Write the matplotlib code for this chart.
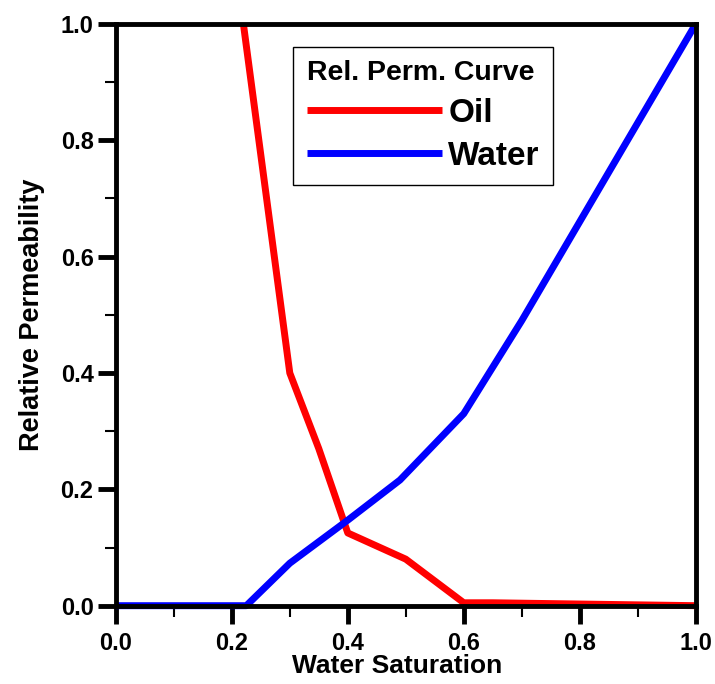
import matplotlib
matplotlib.use('Agg')
import matplotlib.pyplot as plt
from matplotlib.ticker import MultipleLocator

plt.rcParams['font.family'] = ['Liberation Sans', 'DejaVu Sans']
plt.rcParams['font.weight'] = 'bold'

# Relative permeability curves
sw_oil = [0.22, 0.30, 0.35, 0.40, 0.50, 0.60, 0.65, 1.0]
kr_oil = [1.00, 0.40, 0.27, 0.125, 0.08, 0.005, 0.005, 0.0]

sw_water = [0.0, 0.225, 0.30, 0.40, 0.49, 0.60, 0.70, 0.80, 0.90, 1.0]
kr_water = [0.0, 0.0, 0.073, 0.147, 0.216, 0.33, 0.49, 0.66, 0.83, 1.0]

fig = plt.figure(figsize=(7.15, 6.84), dpi=100)
ax = fig.add_axes([0.162, 0.1145, 0.811, 0.8505])

ax.plot(sw_oil, kr_oil, color='#ff0000', linewidth=5, label='Oil',
        clip_on=False, solid_capstyle='butt')
ax.plot(sw_water, kr_water, color='#0000ff', linewidth=5, label='Water',
        clip_on=False, solid_capstyle='butt')

ax.set_xlim(0, 1)
ax.set_ylim(0, 1)
ax.xaxis.set_major_locator(MultipleLocator(0.2))
ax.yaxis.set_major_locator(MultipleLocator(0.2))
ax.xaxis.set_minor_locator(MultipleLocator(0.1))
ax.yaxis.set_minor_locator(MultipleLocator(0.1))

for s in ax.spines.values():
    s.set_linewidth(3.5)
ax.tick_params(which='major', direction='out', length=13, width=3.5,
               labelsize=17)
ax.tick_params(axis='x', which='major', pad=6)
ax.tick_params(axis='y', which='major', pad=3)
ax.tick_params(which='minor', direction='out', length=8, width=1.5)
ax.tick_params(top=False, right=False, which='both')
for lab in ax.get_xticklabels() + ax.get_yticklabels():
    lab.set_fontweight('bold')

ax.set_xlabel('Water Saturation', fontsize=19, fontweight='bold')
ax.xaxis.set_label_coords(0.485, -0.083)
ax.set_ylabel('Relative Permeability', fontsize=19.5, fontweight='bold', labelpad=11)

leg = ax.legend(title='Rel. Perm. Curve', loc='upper left',
                bbox_to_anchor=(0.306, 0.961), fontsize=24,
                title_fontproperties={'size': 20.5, 'weight': 'bold'},
                handlelength=4.05, handletextpad=0.2, labelspacing=0.36,
                borderpad=0.4, fancybox=False, framealpha=1,
                edgecolor='black', borderaxespad=0)
leg.get_frame().set_linewidth(1.0)
leg._legend_box.align = 'left'
for t in leg.get_texts():
    t.set_fontweight('bold')

fig.savefig('out.png', dpi=100)
